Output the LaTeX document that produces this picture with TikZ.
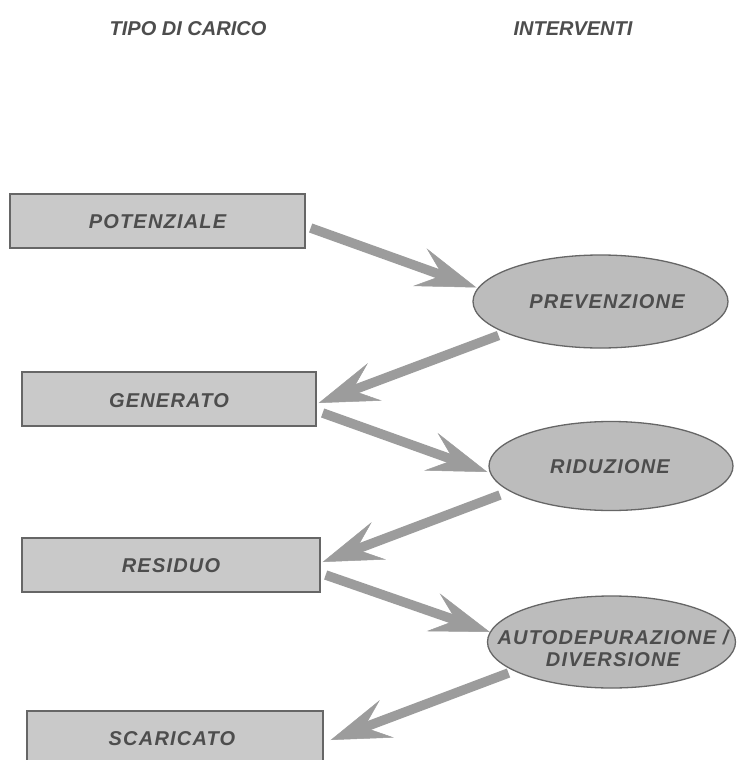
\documentclass[tikz,border=0pt]{standalone}
\usepackage{fontspec}
\setmainfont{Liberation Sans}
\newfontfamily\labfont[LetterSpace=6]{Liberation Sans}
\newfontfamily\headfont{Liberation Sans}
\usetikzlibrary{arrows.meta,shapes.geometric,calc}
\definecolor{txtgray}{HTML}{4D4D4D}
\definecolor{boxfill}{HTML}{C9C9C9}
\definecolor{ellfill}{HTML}{BCBCBC}
\definecolor{edgegray}{HTML}{666666}
\definecolor{arrgray}{HTML}{9C9C9C}
\tikzset{
  lab/.style={font=\labfont\bfseries\itshape\fontsize{20}{22}\selectfont, text=txtgray},
  headlab/.style={font=\headfont\bfseries\itshape\fontsize{20}{24}\selectfont, text=txtgray},
  loadbox/.style={draw=edgegray, line width=1.3pt, fill=boxfill, rectangle, inner sep=0pt},
  actell/.style={draw=edgegray, line width=1.3pt, fill=ellfill, ellipse, inner sep=0pt},
  bigarrow/.style={draw=arrgray, line width=9.5pt,
    -{Stealth[length=60pt, width=40pt, inset=24pt, line width=0.5pt, fill=arrgray]}}
}
\begin{document}
\begin{tikzpicture}[x=1pt, y=-1pt]
\clip (0,0) rectangle (736,760);
\fill[white] (0,0) rectangle (736,760);

% headers
\node[headlab] (h1) at (188,29) {TIPO DI CARICO};
\node[headlab] (h2) at (573,29) {INTERVENTI};

% load boxes
\node[loadbox, minimum width=295pt, minimum height=54pt] (pot) at (157.5,221) {};
\node[lab] (potT) at (157.5,222) {POTENZIALE};
\node[loadbox, minimum width=294pt, minimum height=54pt] (gen) at (169,399) {};
\node[lab] (genT) at (169,401) {GENERATO};
\node[loadbox, minimum width=298pt, minimum height=54pt] (res) at (171,565) {};
\node[lab] (resT) at (171,566) {RESIDUO};
\node[loadbox, minimum width=296pt, minimum height=60pt] (sca) at (175,741) {};
\node[lab] (scaT) at (172,739) {SCARICATO};

% intervention ellipses
\node[actell, minimum width=255pt, minimum height=93pt] (prev) at (600.5,301.5) {};
\node[lab] (prevT) at (607,302) {PREVENZIONE};
\node[actell, minimum width=244pt, minimum height=89pt] (rid) at (611,466) {};
\node[lab] (ridT) at (610,467) {RIDUZIONE};
\node[actell, minimum width=248pt, minimum height=92pt] (auto) at (611.5,642) {};
\node[lab, align=center] (autoT) at (613,648) {AUTODEPURAZIONE /\\DIVERSIONE};

% arrows
\draw[bigarrow] ($(pot.east)+(5,7)$) -- ($(prev.west)+(4,-14)$);
\draw[bigarrow] ($(prev.center)+(-102,34)$) -- ($(gen.east)+(2,4)$);
\draw[bigarrow] ($(gen.east)+(6,14)$) -- ($(rid.west)+(-1,6)$);
\draw[bigarrow] ($(rid.center)+(-111,29)$) -- ($(res.east)+(2,-3)$);
\draw[bigarrow] ($(res.east)+(5,10)$) -- ($(auto.west)+(3,-10)$);
\draw[bigarrow] ($(auto.center)+(-103,31)$) -- ($(sca.east)+(7,-1)$);
\end{tikzpicture}
\end{document}
